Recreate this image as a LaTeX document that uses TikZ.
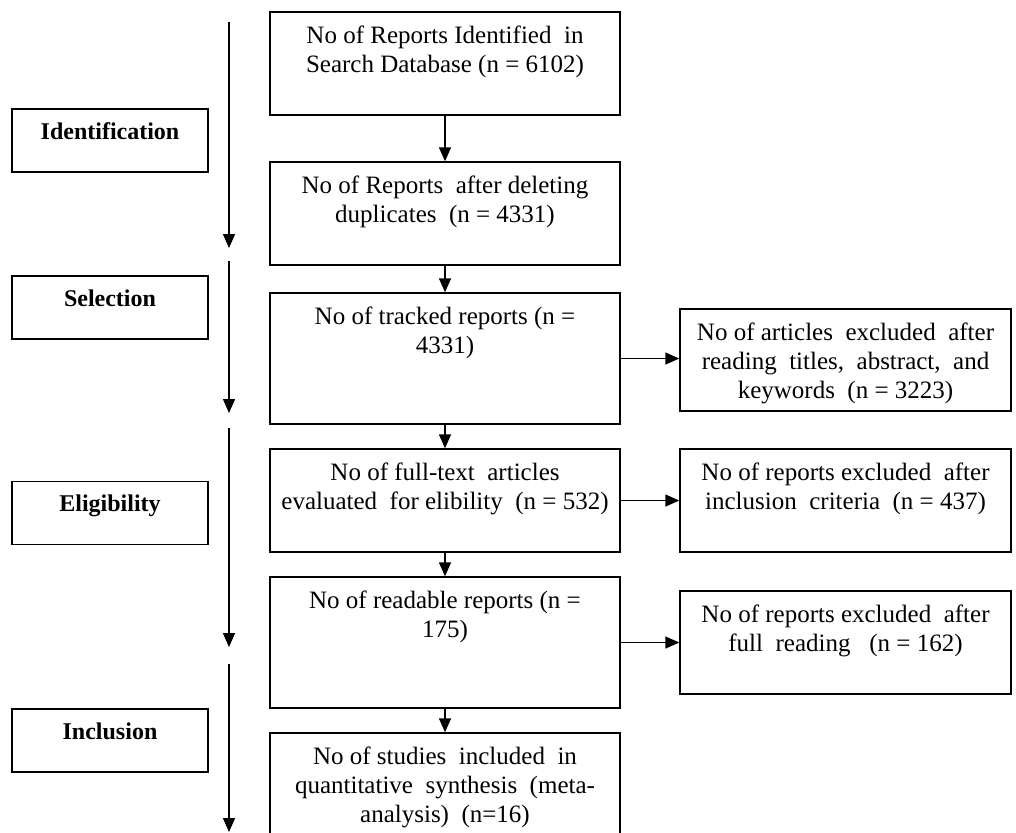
\documentclass[tikz,border=0pt]{standalone}
\usepackage{fontspec}
\setmainfont{Liberation Serif}
\usetikzlibrary{positioning, arrows.meta}

\begin{document}
\begin{tikzpicture}[x=0.5pt, y=-0.5pt,
      mainbox/.style={draw, line width=0.7pt, minimum width=175pt, inner sep=0pt},
      sidebox/.style={draw, line width=0.7pt, minimum width=165.5pt, inner sep=0pt},
      phasebox/.style={draw, line width=0.7pt, minimum width=98pt, minimum height=31.5pt, inner sep=0pt},
      txt/.style={align=center, inner sep=0pt, font=\fontsize{12.5}{14.5}\selectfont},
      phasetxt/.style={inner sep=0pt, font=\fontsize{12}{14}\selectfont\bfseries},
      flow/.style={line width=0.7pt, -{Triangle[length=7pt, width=6pt]}}]
    \useasboundingbox (0,0) rectangle (1016,832);
    % phase labels
    \node[phasebox] (l1) at (110, 140.5) {};
    \node[phasebox] (l2) at (110, 307.5) {};
    \node[phasebox] (l3) at (110, 513)   {};
    \node[phasebox] (l4) at (110, 740.5) {};
    \node[phasetxt, below=7pt of l1.north] {Identification};
    \node[phasetxt, below=7pt of l2.north] {Selection};
    \node[phasetxt, below=7pt of l3.north] {Eligibility};
    \node[phasetxt, below=7pt of l4.north] {Inclusion};
    % phase arrows
    \coordinate (p1a) at (229, 22);
    \coordinate (p1b) at (229, 248);
    \coordinate (p2a) at (229, 261);
    \coordinate (p2b) at (229, 413);
    \coordinate (p3a) at (229, 428);
    \coordinate (p3b) at (229, 647);
    \coordinate (p4a) at (229, 664);
    \coordinate (p4b) at (229, 832);
    \draw[flow] (p1a) -- (p1b);
    \draw[flow] (p2a) -- (p2b);
    \draw[flow] (p3a) -- (p3b);
    \draw[flow] (p4a) -- (p4b);
    % main column
    \node[mainbox, minimum height=51.5pt] (m1) at (445, 63.5)  {};
    \node[mainbox, minimum height=51.5pt] (m2) at (445, 213.5) {};
    \node[mainbox, minimum height=65.5pt] (m3) at (445, 358.5) {};
    \node[mainbox, minimum height=51.5pt] (m4) at (445, 500.5) {};
    \node[mainbox, minimum height=65.5pt] (m5) at (445, 642.5) {};
    \node[mainbox, minimum height=53.5pt] (m6) at (445, 786.5) {};
    \node[txt, below=7pt of m1.north] {No of Reports Identified\ \ in\\Search Database (n = 6102)};
    \node[txt, below=7pt of m2.north] {No of Reports\ \ after deleting\\duplicates\ \ (n = 4331)};
    \node[txt, below=7pt of m3.north] {No of tracked reports (n =\\4331)};
    \node[txt, below=7pt of m4.north] {No of full-text\ \ articles\\evaluated\ \ for elibility\ \ (n = 532)};
    \node[txt, below=7pt of m5.north] {No of readable\ reports (n =\\175)};
    \node[txt, below=7pt of m6.north] {No of studies\ \ included\ \ in\\quantitative\ \ synthesis\ \ (meta-\\analysis)\ \ (n=16)};
    % excluded column
    \node[sidebox, minimum height=51pt]   (r1) at (845.5, 360)   {};
    \node[sidebox, minimum height=51.5pt] (r2) at (845.5, 500.5) {};
    \node[sidebox, minimum height=51.5pt] (r3) at (845.5, 642.5) {};
    \node[txt, below=7pt of r1.north] {No of articles\ \ excluded\ \ after\\reading\ \ titles,\ \ abstract,\ \ and\\keywords\ \ (n = 3223)};
    \node[txt, below=7pt of r2.north] {No of reports excluded\ \ after\\inclusion\ \ criteria\ \ (n = 437)};
    \node[txt, below=7pt of r3.north] {No of reports excluded\ \ after\\full\ \ reading\ \ \ (n = 162)};
    % connectors
    \draw[flow] (m1) -- (m2);
    \draw[flow] (m2) -- (m3);
    \draw[flow] (m3) -- (m4);
    \draw[flow] (m4) -- (m5);
    \draw[flow] (m5) -- (m6);
    \draw[flow] (m3.east) -- (m3.east -| r1.west);
    \draw[flow] (m4.east) -- (m4.east -| r2.west);
    \draw[flow] (m5.east) -- (m5.east -| r3.west);
  \end{tikzpicture}
\end{document}
